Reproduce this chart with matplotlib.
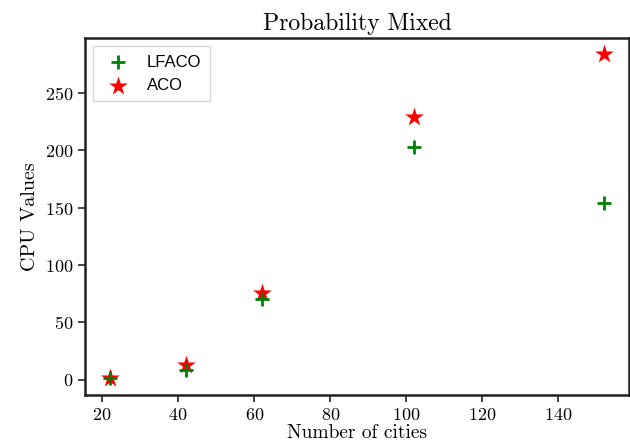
import matplotlib
matplotlib.use("Agg")
import matplotlib.pyplot as plt
from matplotlib.font_manager import FontProperties

plt.rcParams['font.family'] = 'serif'
plt.rcParams['font.serif'] = ['cmr10']
plt.rcParams['axes.formatter.use_mathtext'] = True

# data
cities = [22, 42, 62, 102, 152]
lfaco = [1.5, 8, 70, 203, 154]
aco = [1, 13, 76, 229, 284]

fig, ax = plt.subplots(figsize=(6.3, 4.46), dpi=100)

ax.scatter(cities, lfaco, marker="+", color="green", s=110, linewidths=2, label="LFACO", zorder=3)
ax.scatter(cities, aco, marker="*", color="red", s=200, linewidths=0, label="ACO", zorder=2)

ax.set_title("Probability Mixed", fontsize=17)
ax.set_xlabel("Number of cities", fontsize=14, labelpad=1)
ax.set_ylabel("CPU Values", fontsize=14.5)
ax.set_xticks([20, 40, 60, 80, 100, 120, 140])
ax.set_yticks([0, 50, 100, 150, 200, 250])
ax.tick_params(labelsize=13, direction="out", length=5, width=1.2, color="#262626")
for s in ax.spines.values():
    s.set_linewidth(1.8)
    s.set_color("#222222")

leg = ax.legend(loc="upper left", prop=FontProperties(family="Liberation Sans", size=12),
                frameon=True, fancybox=False, borderpad=0.5, handletextpad=0.7,
                handlelength=2.0)
leg.get_frame().set_edgecolor("#cccccc")

fig.subplots_adjust(left=0.135, right=0.998, top=0.915, bottom=0.115)
fig.savefig("out.png", dpi=100)
